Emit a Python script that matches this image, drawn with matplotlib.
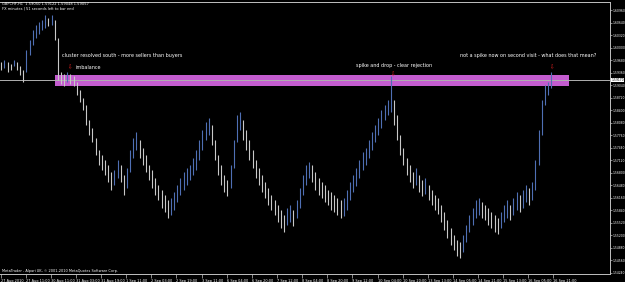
## GBPCHF H1 chart with a supply/demand zone, MT4 style

import matplotlib
matplotlib.use("Agg")
import matplotlib.pyplot as plt
import numpy as np

# price, one entry per 2 hourly bars
highs = [1.5964, 1.5969, 1.5964, 1.5958, 1.5969, 1.5964, 1.5953, 1.5943, 1.5994, 1.6019,
         1.6045, 1.6058, 1.6065, 1.6071, 1.6083, 1.6076, 1.6083, 1.6071, 1.6025, 1.5938,
         1.5933, 1.5938, 1.5933, 1.5927, 1.5912, 1.5892, 1.5871, 1.5854, 1.5815, 1.5795,
         1.5769, 1.5739, 1.5726, 1.5713, 1.5700, 1.5682, 1.5688, 1.5713, 1.5700, 1.5674,
         1.5693, 1.5739, 1.5769, 1.5785, 1.5764, 1.5744, 1.5726, 1.5700, 1.5688, 1.5667,
         1.5649, 1.5636, 1.5624, 1.5611, 1.5616, 1.5631, 1.5649, 1.5667, 1.5682, 1.5693,
         1.5700, 1.5718, 1.5739, 1.5764, 1.5790, 1.5810, 1.5820, 1.5803, 1.5764, 1.5726,
         1.5700, 1.5674, 1.5662, 1.5700, 1.5764, 1.5828, 1.5836, 1.5815, 1.5790, 1.5764,
         1.5739, 1.5713, 1.5693, 1.5674, 1.5657, 1.5641, 1.5624, 1.5611, 1.5598, 1.5585,
         1.5572, 1.5590, 1.5598, 1.5585, 1.5611, 1.5641, 1.5674, 1.5700, 1.5708, 1.5700,
         1.5682, 1.5667, 1.5657, 1.5649, 1.5636, 1.5631, 1.5624, 1.5616, 1.5611, 1.5616,
         1.5636, 1.5657, 1.5674, 1.5693, 1.5713, 1.5733, 1.5744, 1.5764, 1.5785, 1.5803,
         1.5820, 1.5841, 1.5854, 1.5866, 1.5927, 1.5866, 1.5828, 1.5777, 1.5744, 1.5718,
         1.5700, 1.5682, 1.5693, 1.5674, 1.5662, 1.5667, 1.5649, 1.5636, 1.5624, 1.5616,
         1.5598, 1.5580, 1.5560, 1.5539, 1.5521, 1.5509, 1.5503, 1.5521, 1.5547, 1.5572,
         1.5590, 1.5611, 1.5616, 1.5606, 1.5598, 1.5590, 1.5580, 1.5572, 1.5565, 1.5580,
         1.5598, 1.5611, 1.5598, 1.5616, 1.5631, 1.5624, 1.5636, 1.5649, 1.5641, 1.5657,
         1.5713, 1.5790, 1.5866, 1.5905, 1.5912, 1.5938]
lows = [1.5943, 1.5948, 1.5938, 1.5943, 1.5953, 1.5943, 1.5930, 1.5912, 1.5938, 1.5981,
        1.6007, 1.6025, 1.6035, 1.6045, 1.6050, 1.6055, 1.6058, 1.6019, 1.5917, 1.5907,
        1.5902, 1.5912, 1.5907, 1.5902, 1.5879, 1.5861, 1.5841, 1.5803, 1.5777, 1.5759,
        1.5726, 1.5700, 1.5688, 1.5674, 1.5657, 1.5636, 1.5649, 1.5667, 1.5657, 1.5624,
        1.5641, 1.5682, 1.5718, 1.5739, 1.5718, 1.5700, 1.5682, 1.5662, 1.5641, 1.5624,
        1.5611, 1.5590, 1.5580, 1.5565, 1.5572, 1.5585, 1.5606, 1.5624, 1.5636, 1.5649,
        1.5662, 1.5674, 1.5688, 1.5713, 1.5739, 1.5764, 1.5777, 1.5751, 1.5713, 1.5674,
        1.5649, 1.5631, 1.5621, 1.5641, 1.5693, 1.5759, 1.5790, 1.5764, 1.5739, 1.5713,
        1.5693, 1.5667, 1.5649, 1.5631, 1.5616, 1.5598, 1.5585, 1.5572, 1.5555, 1.5539,
        1.5529, 1.5547, 1.5555, 1.5544, 1.5565, 1.5590, 1.5624, 1.5649, 1.5667, 1.5657,
        1.5636, 1.5624, 1.5616, 1.5606, 1.5598, 1.5585, 1.5580, 1.5572, 1.5565, 1.5570,
        1.5585, 1.5611, 1.5631, 1.5647, 1.5667, 1.5688, 1.5700, 1.5718, 1.5739, 1.5759,
        1.5777, 1.5795, 1.5815, 1.5828, 1.5836, 1.5803, 1.5764, 1.5726, 1.5700, 1.5674,
        1.5657, 1.5641, 1.5649, 1.5631, 1.5621, 1.5626, 1.5611, 1.5598, 1.5585, 1.5575,
        1.5555, 1.5534, 1.5514, 1.5496, 1.5483, 1.5468, 1.5463, 1.5478, 1.5503, 1.5529,
        1.5547, 1.5565, 1.5572, 1.5565, 1.5560, 1.5547, 1.5539, 1.5529, 1.5524, 1.5539,
        1.5555, 1.5565, 1.5560, 1.5572, 1.5585, 1.5580, 1.5590, 1.5606, 1.5598, 1.5611,
        1.5636, 1.5700, 1.5777, 1.5854, 1.5879, 1.5897]

date_labels = ["27 Aug 2010", "27 Aug 11:00", "30 Aug 11:00", "31 Aug 03:00", "31 Aug 19:00",
               "1 Sep 11:00", "2 Sep 03:00", "2 Sep 19:00", "3 Sep 11:00", "6 Sep 04:00",
               "6 Sep 20:00", "7 Sep 12:00", "8 Sep 04:00", "8 Sep 20:00", "9 Sep 12:00",
               "10 Sep 04:00", "10 Sep 20:00", "13 Sep 13:00", "14 Sep 05:00", "14 Sep 21:00",
               "15 Sep 13:00", "16 Sep 05:00", "16 Sep 21:00"]
price_ticks = [1.60960 - 0.0032 * k for k in range(22)]

zone_low, zone_high = 1.5902, 1.5930
zone_start, zone_end = 35, 362
bid = 1.5917

notes = [(39, 1.5980, "cluster resolved south - more sellers than buyers"),
         (47.5, 1.5949, "imbalance"),
         (226, 1.5954, "spike and drop - clear rejection"),
         (292.5, 1.5979, "not a spike now on second visit - what does that mean?")]
arrows = [(44, 1.5950), (249.5, 1.5931), (351, 1.5950)]

highs = np.array(highs)
lows = np.array(lows)
x = np.arange(len(highs)) * 2 + 0.5
mid = (highs + lows) / 2
up = np.r_[False, mid[1:] > mid[:-1]]
cols = np.where(up, '#4f6fb4', '#c8c8c8')

ylo, yhi = 1.54212, 1.61165

fig = plt.figure(figsize=(6.25, 2.82), dpi=100, facecolor='black')
ax = fig.add_axes([0.0, 8 / 282, 610 / 625, 272 / 282], facecolor='black')

ax.fill_between([zone_start, zone_end], zone_low, zone_high, color='#c35ccf', lw=0, zorder=1)
ax.axhline(bid, color='#b0b0b0', lw=0.7, zorder=2)
ax.vlines(x, lows, highs, colors=cols, lw=0.8, zorder=3)

for xx, yy, s in notes:
    ax.text(xx, yy, s, color='white', fontsize=3.5, va='center', ha='left', zorder=4)
for xx, yy in arrows:
    ax.text(xx, yy, '⇩', color='#e02020', fontsize=4, va='center', ha='center', zorder=4)

ax.set_xlim(-0.32, 388)
ax.set_ylim(ylo, yhi)

ax.set_xticks(np.arange(len(date_labels)) * 16)
ax.set_xticklabels(date_labels, ha='left')
ax.tick_params(axis='x', colors='#c0c0c0', labelcolor='white', labelsize=2.5,
               length=3, width=0.5, pad=0.5)
ax.yaxis.tick_right()
ax.set_yticks(price_ticks)
ax.set_yticklabels(['%.5f' % p for p in price_ticks])
ax.tick_params(axis='y', colors='#c0c0c0', labelcolor='white', labelsize=2.2,
               length=1.5, width=0.5, pad=0.4)

ax.spines['left'].set_visible(False)
for s in ['right', 'bottom', 'top']:
    ax.spines[s].set_color('#c0c0c0')
    ax.spines[s].set_linewidth(0.7)

ax.text(1.002, (bid - ylo) / (yhi - ylo), '%.5f' % bid, transform=ax.transAxes,
        fontsize=2.2, color='black', va='center', ha='left', clip_on=False,
        bbox=dict(facecolor='white', edgecolor='none', pad=0.3))

fig.text(2 / 625, 1 - 4 / 282, 'GBPCHF,H1  1.59050 1.59122 1.59048 1.59057', color='white',
         fontsize=2.6, va='center', ha='left')
fig.text(2 / 625, 1 - 8.5 / 282, 'FX minutes | 51 seconds left to bar end', color='white',
         fontsize=2.6, va='center', ha='left')
fig.text(2 / 625, 1 - 271 / 282, 'MetaTrader - Alpari UK, © 2001-2010 MetaQuotes Software Corp.',
         color='white', fontsize=2.5, va='center', ha='left')

fig.savefig('out.png', dpi=100, facecolor='black')
